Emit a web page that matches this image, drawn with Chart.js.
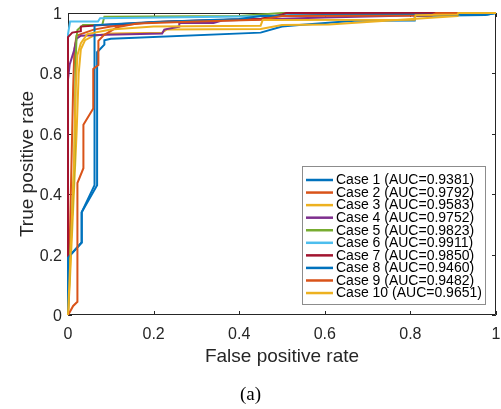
<!DOCTYPE html>
<html lang="en">
<head>
<meta charset="UTF-8">
<title>ROC curves (a)</title>
<script src="https://cdn.jsdelivr.net/npm/chart.js"></script>
<style>
  body { margin: 0; background: #ffffff; overflow: hidden; }
  #wrap { position: relative; width: 501px; height: 409px; }
  #caption {
    position: absolute; left: 0; top: 384px; width: 501px;
    text-align: center; font-family: 'Liberation Serif', 'Times New Roman', serif;
    font-size: 19px; line-height: 20px; color: #000;
  }
</style>
</head>
<body>
<div id="wrap">
  <canvas id="roc"></canvas>
  <div id="caption">(a)</div>
</div>
<script>
// ROC points (false positive rate / true positive rate)
const fpr1 = [0, 0, 0.032, 0.032, 0.068, 0.068, 0.085, 0.085, 0.1, 0.45, 0.5, 0.54, 0.67, 0.81, 0.81, 0.975, 1];
const tpr1 = [0, 0.19, 0.24, 0.34, 0.43, 0.87, 0.895, 0.91, 0.915, 0.935, 0.955, 0.96, 0.974, 0.975, 0.99, 0.993, 1];

const fpr2 = [0, 0.005, 0.012, 0.015, 0.02, 0.04, 0.06, 0.1, 0.2, 0.45, 0.48, 0.6, 0.9, 0.91, 1];
const tpr2 = [0, 0.3, 0.75, 0.88, 0.925, 0.935, 0.945, 0.955, 0.97, 0.98, 0.99, 0.993, 0.995, 1, 1];

const fpr3 = [0, 0.004, 0.012, 0.02, 0.025, 0.03, 0.04, 0.06, 0.1, 0.22, 0.23, 0.45, 0.5, 0.61, 0.91, 0.92, 1];
const tpr3 = [0, 0.1, 0.35, 0.6, 0.8, 0.88, 0.91, 0.925, 0.932, 0.935, 0.945, 0.947, 0.96, 0.962, 0.99, 1, 1];

const fpr4 = [0, 0, 0.004, 0.015, 0.02, 0.03, 0.09, 0.22, 0.225, 0.26, 0.26, 0.34, 0.36, 0.6, 0.85, 0.9, 1];
const tpr4 = [0, 0.78, 0.83, 0.88, 0.915, 0.925, 0.928, 0.932, 0.945, 0.955, 0.967, 0.967, 0.975, 0.985, 0.993, 1, 1];

const fpr5 = [0, 0.005, 0.015, 0.018, 0.02, 0.022, 0.035, 0.08, 0.085, 0.4, 0.5, 1];
const tpr5 = [0, 0.19, 0.5, 0.85, 0.92, 0.944, 0.96, 0.96, 0.988, 0.99, 1, 1];

const fpr6 = [0, 0, 0.005, 0.07, 0.075, 0.5, 0.56, 1];
const tpr6 = [0, 0.93, 0.972, 0.972, 0.983, 0.99, 1, 1];

const fpr7 = [0, 0, 0.01, 0.03, 0.03, 0.08, 0.25, 0.45, 0.5, 0.51, 1];
const tpr7 = [0, 0.92, 0.935, 0.94, 0.955, 0.96, 0.973, 0.98, 0.995, 1, 1];

const fpr8 = [0, 0, 0.032, 0.032, 0.062, 0.062, 0.2, 0.4, 0.45, 0.6, 0.98, 1];
const tpr8 = [0, 0.19, 0.24, 0.34, 0.43, 0.96, 0.97, 0.98, 0.99, 0.993, 0.995, 1];

const fpr9 = [0, 0.003, 0.012, 0.022, 0.022, 0.036, 0.036, 0.059, 0.059, 0.071, 0.071, 0.084, 0.115, 0.16, 0.3, 0.45, 0.5, 0.85, 0.86, 1];
const tpr9 = [0, 0.007, 0.03, 0.044, 0.437, 0.486, 0.63, 0.684, 0.815, 0.828, 0.908, 0.927, 0.953, 0.965, 0.972, 0.978, 0.99, 0.992, 1, 1];

const fpr10 = [0, 0.006, 0.014, 0.018, 0.022, 0.03, 0.045, 0.1, 0.2, 0.45, 0.455, 0.81, 0.812, 0.91, 0.912, 1];
const tpr10 = [0, 0.2, 0.5, 0.75, 0.86, 0.9, 0.93, 0.945, 0.955, 0.958, 0.977, 0.978, 0.993, 0.995, 1, 1];

const caseNames = ['Case 1', 'Case 2', 'Case 3', 'Case 4', 'Case 5', 'Case 6', 'Case 7', 'Case 8', 'Case 9', 'Case 10'];
const aucValues = ['0.9381', '0.9792', '0.9583', '0.9752', '0.9823', '0.9911', '0.9850', '0.9460', '0.9482', '0.9651'];
const tickValues = [0, 0.2, 0.4, 0.6, 0.8, 1];

// MATLAB default line colours
const lineColors = ['#0072BD', '#D95319', '#EDB120', '#7E2F8E', '#77AC30', '#4DBEEE', '#A2142F', '#0072BD', '#D95319', '#EDB120'];

const fprs = [fpr1, fpr2, fpr3, fpr4, fpr5, fpr6, fpr7, fpr8, fpr9, fpr10];
const tprs = [tpr1, tpr2, tpr3, tpr4, tpr5, tpr6, tpr7, tpr8, tpr9, tpr10];

const FONT = "'Liberation Sans', Arial, Helvetica, sans-serif";
const INK = '#262626';

const datasets = caseNames.map((name, i) => ({
    label: name + ' (AUC=' + aucValues[i] + ')',
    data: fprs[i].map((x, j) => ({ x: x, y: tprs[i][j] })),
    showLine: true,
    borderColor: lineColors[i],
    backgroundColor: lineColors[i],
    borderWidth: 2,
    pointRadius: 0,
    fill: false,
    clip: false,
    order: caseNames.length - i   // later cases on top, as in MATLAB
}));

const tickText = v => String(v);

// box, inward ticks, tick labels, axis titles and the legend inside the axes
const matlabAxes = {
    id: 'matlabAxes',
    beforeDatasetsDraw(chart) {
        const { ctx, chartArea: a, scales } = chart;
        ctx.save();
        ctx.strokeStyle = INK;
        ctx.lineWidth = 1;
        ctx.beginPath();
        ctx.rect(a.left + 0.5, a.top + 0.5, a.right - a.left - 1, a.bottom - a.top - 1);
        tickValues.forEach(v => {
            const px = Math.round(scales.x.getPixelForValue(v)) + 0.5;
            ctx.moveTo(px, a.bottom); ctx.lineTo(px, a.bottom - 4);
            ctx.moveTo(px, a.top); ctx.lineTo(px, a.top + 4);
            const py = Math.round(scales.y.getPixelForValue(v)) + 0.5;
            ctx.moveTo(a.left, py); ctx.lineTo(a.left + 4, py);
            ctx.moveTo(a.right, py); ctx.lineTo(a.right - 4, py);
        });
        ctx.stroke();

        ctx.fillStyle = INK;
        ctx.font = '16px ' + FONT;
        ctx.textBaseline = 'alphabetic';
        ctx.textAlign = 'center';
        tickValues.forEach(v => {
            ctx.fillText(tickText(v), scales.x.getPixelForValue(v), a.bottom + 24);
        });
        ctx.textAlign = 'right';
        tickValues.forEach(v => {
            ctx.fillText(tickText(v), a.left - 6, scales.y.getPixelForValue(v) + 6);
        });
        ctx.restore();
    },
    afterDraw(chart) {
        const { ctx, chartArea: a } = chart;
        ctx.save();
        ctx.fillStyle = INK;
        ctx.font = '19px ' + FONT;
        ctx.textAlign = 'center';
        ctx.textBaseline = 'middle';
        ctx.fillText('False positive rate', (a.left + a.right) / 2, 357);
        ctx.translate(28, (a.top + a.bottom) / 2);
        ctx.rotate(-Math.PI / 2);
        ctx.fillText('True positive rate', 0, 0);
        ctx.restore();

        // legend
        const lx = 302, ly = 166, lw = 183, lh = 138;
        ctx.save();
        ctx.fillStyle = '#ffffff';
        ctx.fillRect(lx, ly, lw, lh);
        ctx.strokeStyle = '#8c8c8c';
        ctx.lineWidth = 1;
        ctx.strokeRect(lx + 0.5, ly + 0.5, lw, lh);
        ctx.font = '14px ' + FONT;
        ctx.textAlign = 'left';
        ctx.textBaseline = 'middle';
        chart.data.datasets.forEach((ds, i) => {
            const yy = ly + 14 + i * 12.56;
            ctx.strokeStyle = ds.borderColor;
            ctx.lineWidth = 2.5;
            ctx.beginPath();
            ctx.moveTo(lx + 4, yy);
            ctx.lineTo(lx + 31, yy);
            ctx.stroke();
            ctx.fillStyle = '#000000';
            ctx.fillText(ds.label, lx + 34, yy + 0.5);
        });
        ctx.restore();
    }
};

new Chart(document.getElementById('roc'), {
    type: 'scatter',
    data: { datasets: datasets },
    options: {
        responsive: true,
        maintainAspectRatio: false,
        animation: false,
        layout: { padding: { top: 13, right: 5, left: 0, bottom: 0 } },
        plugins: {
            legend: { display: false },
            tooltip: { enabled: false }
        },
        scales: {
            x: {
                type: 'linear', min: 0, max: 1,
                grid: { display: false },
                border: { display: false },
                ticks: { display: false },
                afterBuildTicks: s => { s.ticks = tickValues.map(v => ({ value: v })); },
                afterFit: s => { s.height = 94; }
            },
            y: {
                type: 'linear', min: 0, max: 1,
                grid: { display: false },
                border: { display: false },
                ticks: { display: false },
                afterBuildTicks: s => { s.ticks = tickValues.map(v => ({ value: v })); },
                afterFit: s => { s.width = 68; }
            }
        }
    },
    plugins: [matlabAxes]
});
</script>
</body>
</html>
